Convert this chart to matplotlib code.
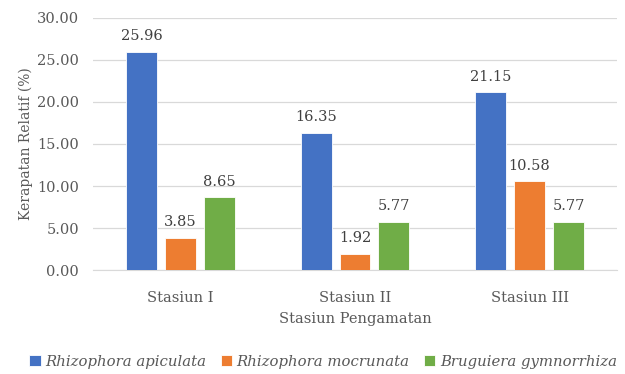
import numpy as np
import matplotlib.pyplot as plt

plt.rcParams['font.family'] = ['DejaVu Serif']

stations = ['Stasiun I', 'Stasiun II', 'Stasiun III']
species = ['Rhizophora apiculata', 'Rhizophora mocrunata', 'Bruguiera gymnorrhiza']
apiculata = [25.96, 16.35, 21.15]
mocrunata = [3.85, 1.92, 10.58]
gymnorrhiza = [8.65, 5.77, 5.77]
colors = ['#4472C4', '#ED7D31', '#70AD47']
grey = '#595959'

fig = plt.figure(figsize=(6.25, 3.74), dpi=100)
ax = fig.add_axes([0.149, 0.278, 0.838, 0.674])

x = np.arange(len(stations))
width = 0.177
step = 0.223
for i, (vals, name) in enumerate(zip([apiculata, mocrunata, gymnorrhiza], species)):
    pos = x + (i - 1) * step
    bars = ax.bar(pos, vals, width, color=colors[i], edgecolor='white',
                  linewidth=0.6, label=name, zorder=3)
    for b, v in zip(bars, vals):
        ax.text(b.get_x() + b.get_width() / 2, v + 1.0, f'{v:.2f}',
                ha='center', va='bottom', fontsize=10.5, color='#404040')

ax.set_xlim(-0.5, 2.5)
ax.set_ylim(0, 30)
ax.set_yticks(np.arange(0, 31, 5))
ax.set_yticklabels([f'{t:.2f}' for t in np.arange(0, 31, 5)])
ax.set_xticks(x)
ax.set_xticklabels(stations)
ax.tick_params(length=0, labelsize=10.5, labelcolor=grey)
ax.tick_params(axis='x', pad=15)
ax.tick_params(axis='y', pad=10)
ax.grid(axis='y', color='#D9D9D9', linewidth=0.9, zorder=0)
for s in ['top', 'right', 'left']:
    ax.spines[s].set_visible(False)
ax.spines['bottom'].set_color('#D9D9D9')

ax.set_xlabel('Stasiun Pengamatan', fontsize=10.5, color=grey, labelpad=5)
ax.set_ylabel('Kerapatan Relatif (%)', fontsize=10, color=grey, labelpad=3)

leg = fig.legend(loc='center', bbox_to_anchor=(0.517, 0.032), ncol=3, frameon=False,
                 prop={'style': 'italic', 'size': 10.7}, handlelength=0.75,
                 handleheight=0.75, handletextpad=0.3, columnspacing=1.0)
for t in leg.get_texts():
    t.set_color(grey)

fig.savefig('out.png', dpi=100)
